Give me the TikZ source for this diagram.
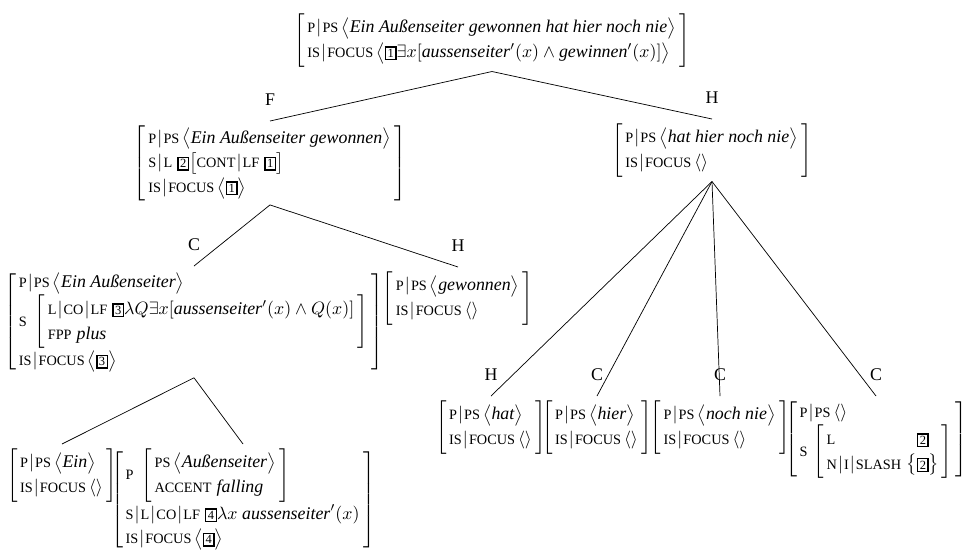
\documentclass[tikz,border=0pt]{standalone}
\usepackage{fontspec}
\setmainfont{Liberation Serif}
\usepackage{amsmath}
\usetikzlibrary{positioning}

% feature names, path bars, tags and lists
\newcommand\ft[1]{\mbox{\fontsize{8}{9}\selectfont #1}}
\newcommand\pth{\hspace{0.6pt}|\hspace{0.6pt}}
\newcommand\tg[1]{\mbox{\setlength\fboxsep{0.8pt}\setlength\fboxrule{0.8pt}\fbox{\scriptsize #1}}}
\newcommand\lst[1]{\,\bigl\langle #1\bigr\rangle}
\newcommand\nil{\,\langle\rangle}
\newcommand\avmbox[1]{$\renewcommand\arraystretch{1.15}\left[\begin{array}{@{\hspace{1.5pt}}l@{\hspace{2pt}}}#1\end{array}\right]$}
\newcommand\subavm[1]{\left[\begin{array}{@{\hspace{1.5pt}}l@{\hspace{2pt}}}#1\end{array}\right]}

\tikzset{
  avm/.style={anchor=north, inner sep=0pt, outer sep=2.5pt},
  cat/.style={inner sep=0pt}
}

\begin{document}
\begin{tikzpicture}[x=0.56pt,y=-0.56pt]
\useasboundingbox (0,0) rectangle (964,551);

% mother
\node[avm] (s) at (492,9) {\avmbox{
  \ft{P}\pth\ft{PS}\lst{\textit{Ein Außenseiter gewonnen hat hier noch nie}}\\
  \ft{IS}\pth\ft{FOCUS}\lst{\tg{1}\exists x[\textit{aussenseiter}'(x)\wedge\textit{gewinnen}'(x)]}}};

% daughters
\node[avm] (f) at (270,121) {\avmbox{
  \ft{P}\pth\ft{PS}\lst{\textit{Ein Außenseiter gewonnen}}\\
  \ft{S}\pth\ft{L}\;\tg{2}\bigl[\ft{CONT}\pth\ft{LF}\;\tg{1}\bigr]\\
  \ft{IS}\pth\ft{FOCUS}\lst{\tg{1}}}};
\node[avm] (h) at (712,119) {\avmbox{
  \ft{P}\pth\ft{PS}\lst{\textit{hat hier noch nie}}\\
  \ft{IS}\pth\ft{FOCUS}\nil}};

\node[avm] (c) at (194,266) {\avmbox{
  \ft{P}\pth\ft{PS}\lst{\textit{Ein Außenseiter}}\\
  \ft{S}\;\subavm{\ft{L}\pth\ft{CO}\pth\ft{LF}\;\tg{3}\lambda Q\exists x[\textit{aussenseiter}'(x)\wedge Q(x)]\\
    \ft{FPP}\;\textit{plus}}\\
  \ft{IS}\pth\ft{FOCUS}\lst{\tg{3}}}};
\node[avm] (g) at (458,267) {\avmbox{
  \ft{P}\pth\ft{PS}\lst{\textit{gewonnen}}\\
  \ft{IS}\pth\ft{FOCUS}\nil}};

\node[avm] (ein) at (62,444) {\avmbox{
  \ft{P}\pth\ft{PS}\lst{\textit{Ein}}\\
  \ft{IS}\pth\ft{FOCUS}\nil}};
\node[avm] (aus) at (243,444) {\avmbox{
  \ft{P}\;\subavm{\ft{PS}\lst{\textit{Außenseiter}}\\
    \ft{ACCENT}\;\textit{falling}}\\
  \ft{S}\pth\ft{L}\pth\ft{CO}\pth\ft{LF}\;\tg{4}\lambda x\ \textit{aussenseiter}'(x)\\
  \ft{IS}\pth\ft{FOCUS}\lst{\tg{4}}}};

\node[avm] (hat) at (491,396) {\avmbox{
  \ft{P}\pth\ft{PS}\lst{\textit{hat}}\\
  \ft{IS}\pth\ft{FOCUS}\nil}};
\node[avm] (hier) at (597,396) {\avmbox{
  \ft{P}\pth\ft{PS}\lst{\textit{hier}}\\
  \ft{IS}\pth\ft{FOCUS}\nil}};
\node[avm] (noch) at (720,396) {\avmbox{
  \ft{P}\pth\ft{PS}\lst{\textit{noch nie}}\\
  \ft{IS}\pth\ft{FOCUS}\nil}};
\node[avm] (nie) at (876,396) {\avmbox{
  \ft{P}\pth\ft{PS}\nil\\
  \ft{S}\,\left[\begin{array}{@{\hspace{1.5pt}}l@{\hspace{3pt}}c@{\hspace{1pt}}}
    \ft{L} & \tg{2}\\
    \ft{N}\pth\ft{I}\pth\ft{SLASH} & \bigl\{\tg{2}\bigr\}\end{array}\right]}};

% category labels
\node[cat, above=8.5pt of f] (fcat) {F};
\node[cat, above=8.5pt of h] (hcat) {H};
\node[cat, above=8.5pt of c] (ccat) {C};
\node[cat, above=8.5pt of g] (gcat) {H};
\node[cat, above=8.5pt of hat] (hatcat) {H};
\node[cat, above=8.5pt of hier] (hiercat) {C};
\node[cat, above=8.5pt of noch] (nochcat) {C};
\node[cat, above=8.5pt of nie] (niecat) {C};

% branches
\draw (s.south) -- (f.north);
\draw (s.south) -- (h.north);
\draw (f.south) -- (c.north);
\draw (f.south) -- (g.north);
\draw (c.south) -- (ein.north);
\draw (c.south) -- (aus.north);
\draw (h.south) -- (hat.north);
\draw (h.south) -- (hier.north);
\draw (h.south) -- (noch.north);
\draw (h.south) -- (nie.north);
\end{tikzpicture}
\end{document}
